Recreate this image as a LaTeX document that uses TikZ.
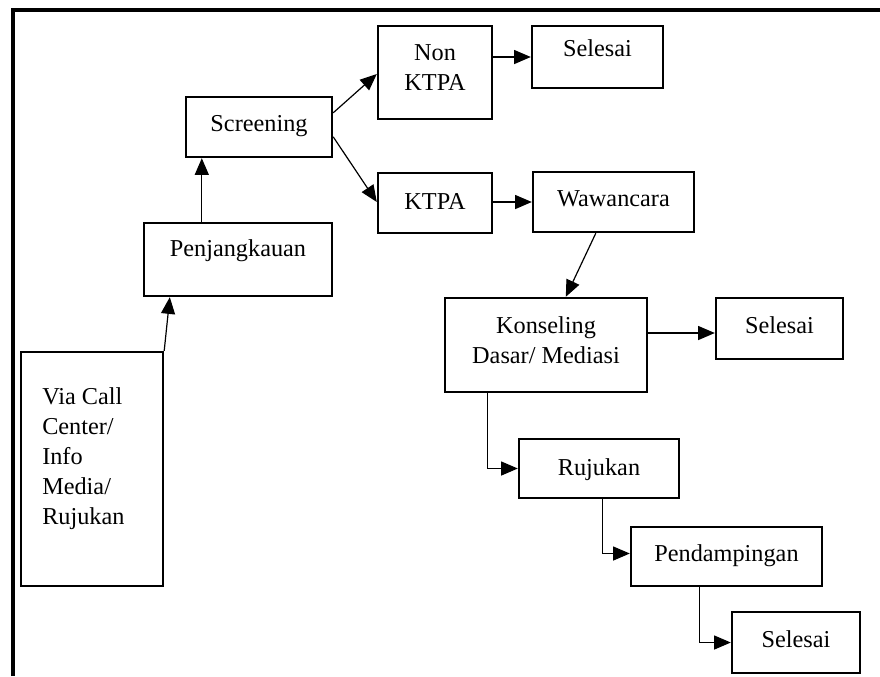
\documentclass[tikz,border=0pt]{standalone}
\usepackage{fontspec}
\setmainfont{Liberation Serif}
\usetikzlibrary{arrows.meta,calc}
\tikzset{
  box/.style={draw, line width=1.8pt, inner sep=0pt, rectangle},
  txt/.style={inner sep=0pt, font=\fontsize{18.2pt}{22.5pt}\selectfont, align=center},
  arr/.style={line width=0.9pt, -{Triangle[length=12.5pt,width=10.5pt]}},
}
\begin{document}
\begin{tikzpicture}[x=0.75pt,y=-0.75pt]
\useasboundingbox (0,0) rectangle (880,676);
% frame
\draw[line width=2.4pt, line join=miter] (13,676) -- (13,10) -- (880,10);
% boxes
\node[box, minimum width=85.5pt,  minimum height=69.75pt] (non)  at (435,72.5) {};
\node[box, minimum width=98.25pt, minimum height=46.5pt]  (sel1) at (597.5,57) {};
\node[box, minimum width=109.5pt, minimum height=45pt]    (scr)  at (259,127) {};
\node[box, minimum width=85.5pt,  minimum height=45pt]    (ktpa) at (435,203) {};
\node[box, minimum width=120.75pt,minimum height=45pt]    (waw)  at (613.5,202) {};
\node[box, minimum width=141pt,   minimum height=54.75pt] (penj) at (238,259.5) {};
\node[box, minimum width=151.5pt, minimum height=70.5pt]  (kons) at (546,345) {};
\node[box, minimum width=95.25pt, minimum height=45.75pt] (sel2) at (779.5,328.5) {};
\node[box, minimum width=106.5pt, minimum height=175.5pt] (via)  at (92,469) {};
\node[box, minimum width=120pt,   minimum height=44.25pt] (ruj)  at (599,468.5) {};
\node[box, minimum width=143.25pt,minimum height=44.25pt] (pend) at (726.5,556.5) {};
\node[box, minimum width=96pt,    minimum height=45.75pt] (sel3) at (796,642.5) {};
% texts
\node[txt] (tnon)  at (435,68) {Non\\KTPA};
\node[txt] (tsel1) at (597.5,48) {Selesai};
\node[txt] (tscr)  at (259,126) {Screening};
\node[txt] (tktpa) at (435,201) {KTPA};
\node[txt] (twaw)  at (613.5,199) {Wawancara};
\node[txt] (tpenj) at (238,251) {Penjangkauan};
\node[txt] (tkons) at (546,340) {Konseling\\Dasar/ Mediasi};
\node[txt] (tsel2) at (779.5,325) {Selesai};
\node[txt, align=left, anchor=west] (tvia) at (42,459) {Via Call\\Center/\\Info\\Media/\\Rujukan};
\node[txt] (truj)  at (599,470) {Rujukan};
\node[txt] (tpend) at (726.5,556) {Pendampingan};
\node[txt] (tsel3) at (796,639) {Selesai};
% connectors
\draw[arr] (via.north east) -- ($(penj.south west)+(27,0)$);
\draw[arr] ($(penj.north west)+(59,0)$) -- ($(scr.south west)+(17,0)$);
\draw[arr] ($(scr.north east)+(0,17)$) -- ($(non.west)+(0,1.5)$);
\draw[arr] ($(scr.north east)+(0,41)$) -- ($(ktpa.west)+(0,-1)$);
\draw[arr] (non.east |- sel1.west) -- (sel1.west);
\draw[arr] (ktpa.east |- waw.west) -- (waw.west);
\draw[arr] ($(waw.south west)+(64,0)$) -- ($(kons.north west)+(122,0)$);
\coordinate (k2s) at ($(sel2.west)+(0,4.5)$);
\draw[arr] (kons.east |- k2s) -- (k2s);
\draw[arr] ($(kons.south west)+(44,0)$) |- (ruj.west);
\draw[arr] ($(ruj.south west)+(85,0)$) |- ($(pend.west)+(0,-3)$);
\draw[arr] ($(pend.south west)+(70,0)$) |- (sel3.west);
\end{tikzpicture}
\end{document}
